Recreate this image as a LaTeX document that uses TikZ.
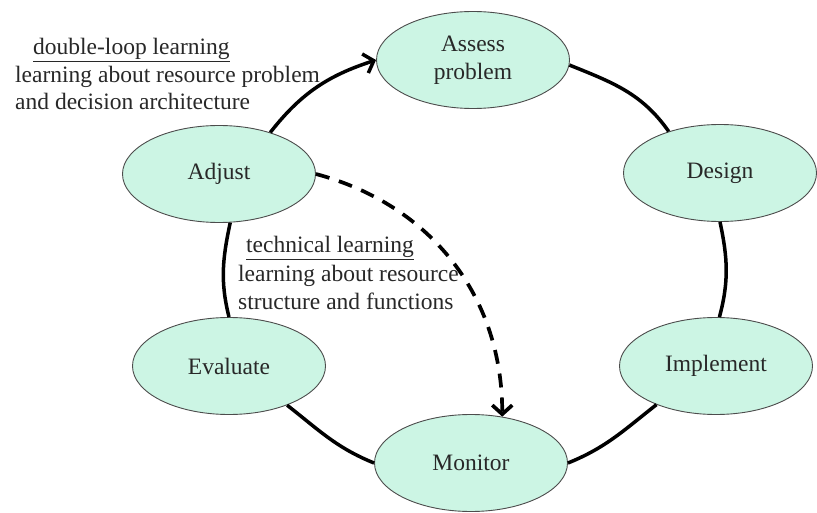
\documentclass[tikz,border=0pt]{standalone}
\usepackage{fontspec}
\setmainfont{Liberation Serif}
\usetikzlibrary{shapes.geometric,arrows.meta}
\definecolor{mint}{RGB}{204,245,228}
\definecolor{txt}{RGB}{40,40,40}
\tikzset{
  stage/.style={ellipse, draw=black!70, line width=0.9pt, fill=mint, minimum width=193pt, minimum height=97pt, inner sep=0pt, align=center},
  loopline/.style={line width=3.5pt, draw=black},
  barb/.style={-{Straight Barb[length=9pt,width=20pt]}},
  dashline/.style={line width=3.7pt, draw=black, dash pattern=on 14pt off 10pt},
  lbl/.style={anchor=base west, inner sep=0pt}
}
\begin{document}
\begin{tikzpicture}[x=1pt, y=-1pt, font=\fontsize{23.5}{27.5}\selectfont, text=txt]
\useasboundingbox[fill=white] (0,0) rectangle (817,513);
% stages
\node[stage] (assess) at (473,60) {Assess\\[1pt]problem};
\node[stage] (design) at (720,173) {Design};
\node[stage] (implement) at (716,366) {Implement};
\node[stage] (monitor) at (471,463) {Monitor};
\node[stage] (evaluate) at (229,366) {Evaluate};
\node[stage] (adjust) at (219,174) {Adjust};
% loop
\draw[loopline, barb] (adjust.39) to[out=52, in=198] (assess.west);
\draw[loopline] (assess.-3) to[out=-22, in=125] (design.141);
\draw[loopline] (design.south) to[out=-78, in=75] (implement.86);
\draw[loopline] (implement.213) to[out=218, in=22] (monitor.east);
\draw[loopline] (monitor.west) to[out=158, in=-38] (evaluate.-34);
\draw[loopline] (evaluate.north) to[out=104, in=-102] (adjust.-77);
% technical learning (dashed)
\draw[dashline, barb] (adjust.east) to[out=-15, in=90] (monitor.56);
% labels
\node[lbl] (dl1) at (33,55) {\underline{double-loop learning}};
\node[lbl] (dl2) at (15,82.5) {learning about resource problem};
\node[lbl] (dl3) at (15,110) {and decision architecture};
\node[lbl] (tl1) at (246,253) {\underline{technical learning}};
\node[lbl] (tl2) at (238,281) {learning about resource};
\node[lbl] (tl3) at (238,309) {structure and functions};
\end{tikzpicture}
\end{document}
